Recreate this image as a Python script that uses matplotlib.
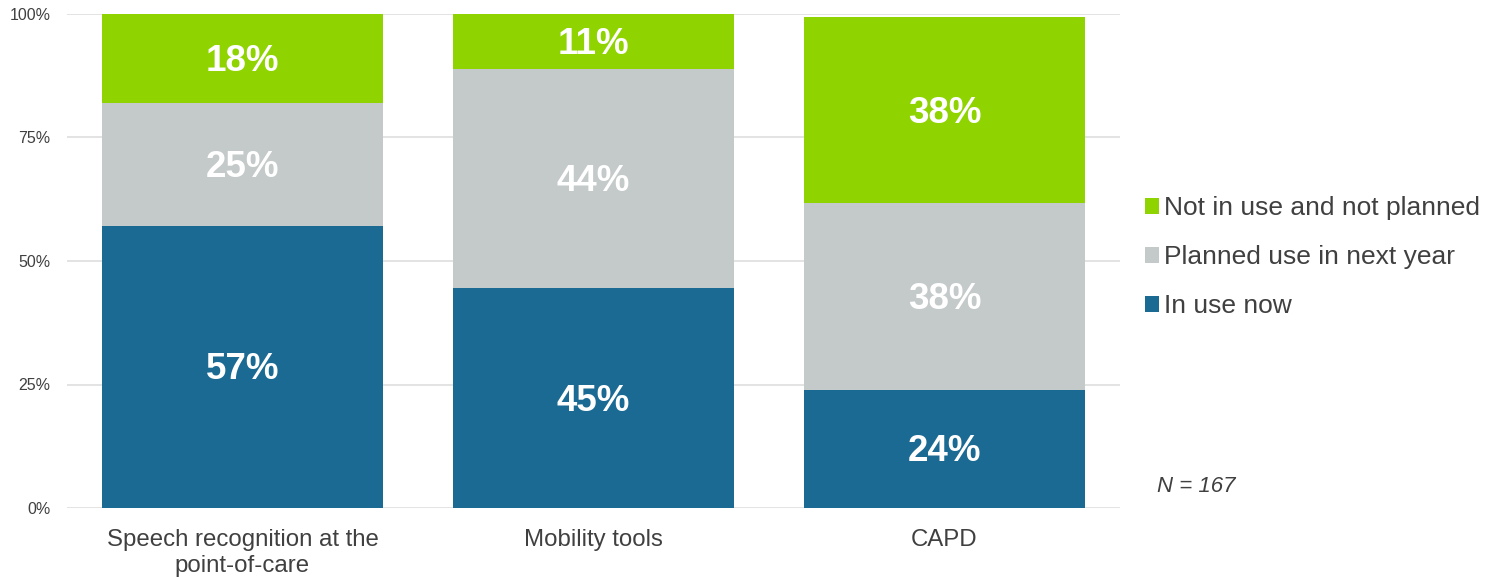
import matplotlib
matplotlib.use("Agg")
import matplotlib.pyplot as plt
import matplotlib.transforms as mtransforms
import numpy as np

categories = ["Speech recognition at the\npoint-of-care", "Mobility tools", "CAPD"]
in_use = [57.1, 44.5, 23.9]
planned = [24.9, 44.4, 37.8]
not_planned = [18.0, 11.1, 37.7]
labels_in_use = ["57%", "45%", "24%"]
labels_planned = ["25%", "44%", "38%"]
labels_not = ["18%", "11%", "38%"]
yticks = [0, 25, 50, 75, 100]
ytick_labels = ["0%", "25%", "50%", "75%", "100%"]

c_blue = "#1B6A94"
c_gray = "#C4C9C9"
c_green = "#8FD400"
txt = "#404040"

plt.rcParams['font.family'] = ['Liberation Sans', 'DejaVu Sans']

fig = plt.figure(figsize=(14.94, 5.77), dpi=100)
ax = fig.add_axes([67/1494, (577-508)/577, (1120-67)/1494, (508-14)/577])

x = np.arange(len(categories))
w = 0.8
b1 = ax.bar(x, in_use, w, color=c_blue, label="In use now", zorder=3)
b2 = ax.bar(x, planned, w, bottom=in_use, color=c_gray, label="Planned use in next year", zorder=3)
bot3 = [a + b for a, b in zip(in_use, planned)]
b3 = ax.bar(x, not_planned, w, bottom=bot3, color=c_green, label="Not in use and not planned", zorder=3)

off = mtransforms.offset_copy(ax.transData, fig=fig, x=0, y=-3, units='dots')
for i in range(len(categories)):
    for yc, lab in [(in_use[i] / 2, labels_in_use[i]),
                    (in_use[i] + planned[i] / 2, labels_planned[i]),
                    (bot3[i] + not_planned[i] / 2, labels_not[i])]:
        ax.text(x[i], yc, lab, ha='center', va='center', transform=off,
                color='white', fontsize=26.5, fontweight='bold', zorder=4)

ax.set_xlim(-0.5, 2.5)
ax.set_ylim(0, 100)
ax.set_yticks(yticks)
ax.set_yticklabels(ytick_labels, fontsize=11.5, color=txt)
ax.set_xticks(x)
ax.set_xticklabels(categories, fontsize=17.3, color=txt, linespacing=1.22)
ax.tick_params(axis='both', length=0)
ax.tick_params(axis='x', pad=15)
ax.tick_params(axis='y', pad=12)
ax.yaxis.grid(True, color='#E0E0E0', linewidth=1.3, zorder=0)
ax.set_axisbelow(True)
for s in ax.spines.values():
    s.set_visible(False)

handles = [b3, b2, b1]
leg = fig.legend(handles, [h.get_label() for h in handles],
                 loc='center left', bbox_to_anchor=(1134/1494, (577-257)/577),
                 frameon=False, fontsize=19.0, handlelength=0.55, handleheight=0.55,
                 handletextpad=0.2, labelspacing=0.95, borderaxespad=0)
for t in leg.get_texts():
    t.set_color(txt)

fig.text(1157/1494, (577-487)/577, "N = 167", fontsize=16, style='italic', color=txt,
         ha='left', va='center')

fig.savefig("out.png", dpi=100)
